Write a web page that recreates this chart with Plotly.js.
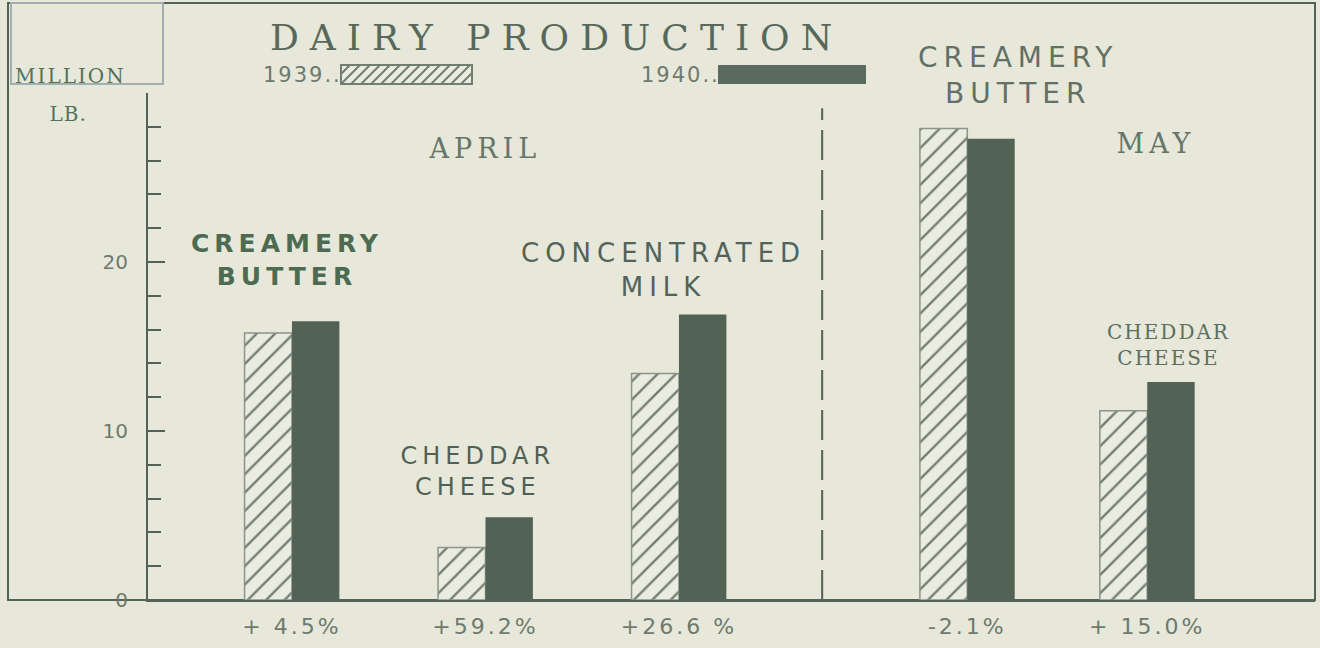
<!DOCTYPE html>
<html>
<head>
<meta charset="utf-8">
<script src="https://cdn.plot.ly/plotly-3.0.1.min.js"></script>
<style>
  html, body { margin: 0; padding: 0; background: #e7e8d9; }
  #chart { width: 1320px; height: 648px; }
  #chart .xtick text { letter-spacing: 3px; }
</style>
</head>
<body>
<div id="chart"></div>
<script>
// ---- data ----
const months = ['APRIL', 'APRIL', 'APRIL', 'MAY', 'MAY'];
const products = ['CREAMERY<br>BUTTER', 'CHEDDAR<br>CHEESE', 'CONCENTRATED<br>MILK', 'CREAMERY<br>BUTTER', 'CHEDDAR<br>CHEESE'];
const prod1939 = [15.8, 3.1, 13.4, 27.9, 11.2];
const prod1940 = [16.5, 4.9, 16.9, 27.3, 12.9];
const changeLabels = ['+ 4.5%', '+59.2%', '+26.6 %', '-2.1%', '+ 15.0%'];
const seriesNames = ['1939..', '1940..'];
const yTickVals = [0, 10, 20];
const yTickText = ['0', '10', '20'];

// ---- layout helpers (positions / styles, not data) ----
const W = 1320, H = 648;
const M = { l: 148, r: 5, t: 93, b: 48 };
const plotW = W - M.l - M.r, plotH = H - M.t - M.b;
const px = x => (x - M.l) / plotW;           // pixel -> paper x
const py = y => (H - M.b - y) / plotH;       // pixel -> paper y
const groupPos = [1, 2, 3, 4.49, 5.42];
const barW = 0.245;
const ink = '#536256';
const bg = '#e7e8d9';

const traces = [
  {
    type: 'bar', name: seriesNames[0], x: groupPos, y: prod1939,
    width: barW, offset: -barW,
    marker: {
      color: bg,
      line: { color: '#8a948a', width: 1.5 },
      pattern: { shape: '/', size: 13, solidity: 0.18, fgcolor: '#737e73', bgcolor: '#eaecdf', fillmode: 'replace' }
    },
    showlegend: false, hoverinfo: 'y'
  },
  {
    type: 'bar', name: seriesNames[1], x: groupPos, y: prod1940,
    width: barW, offset: 0,
    marker: { color: '#526255', line: { width: 0 } },
    showlegend: false, hoverinfo: 'y'
  }
];

// annotation list with per-item letter spacing
const ann = [];
const spacing = [];
function addAnn(a, ls) {
  ann.push(Object.assign({ showarrow: false, xanchor: 'center', yanchor: 'middle' }, a));
  spacing.push(ls || 0);
}

addAnn({ text: 'DAIRY PRODUCTION', xref: 'paper', yref: 'paper', x: px(556), y: py(37),
  font: { family: 'DejaVu Serif', size: 36, color: '#58685a' } }, 11);
addAnn({ text: 'MILLION', xref: 'paper', yref: 'paper', x: px(20), y: py(76), xanchor: 'left',
  font: { family: 'DejaVu Serif', size: 20, color: '#557259' } }, 2);
addAnn({ text: 'LB.', xref: 'paper', yref: 'paper', x: px(68), y: py(114),
  font: { family: 'DejaVu Serif', size: 20, color: '#557259' } }, 1);
addAnn({ text: seriesNames[0], xref: 'paper', yref: 'paper', x: px(338), y: py(75), xanchor: 'right',
  font: { family: 'DejaVu Sans', size: 21, color: '#6d7a6d' } }, 2);
addAnn({ text: seriesNames[1], xref: 'paper', yref: 'paper', x: px(716), y: py(75), xanchor: 'right',
  font: { family: 'DejaVu Sans', size: 21, color: '#6d7a6d' } }, 2);

// month labels
const monthPos = { APRIL: [2.0, 26.7], MAY: [5.47, 27.0] };
[...new Set(months)].forEach(m => {
  addAnn({ text: m, xref: 'x', yref: 'y', x: monthPos[m][0], y: monthPos[m][1],
    font: { family: 'DejaVu Serif', size: 27, color: '#66766a' } }, 5);
});

// product labels (the May creamery label sits above the axis range, so it uses paper coords)
const labelPos = [
  { xref: 'x', yref: 'y', x: 0.975, y: 20.1 },
  { xref: 'x', yref: 'y', x: 1.96, y: 7.6 },
  { xref: 'x', yref: 'y', x: 2.92, y: 19.5 },
  { xref: 'paper', yref: 'paper', x: px(1018), y: py(75) },
  { xref: 'x', yref: 'y', x: 5.53, y: 15.1 }
];
const labelStyle = [
  { family: 'DejaVu Sans', size: 25, color: '#4c6b51', weight: 700, ls: 5 },
  { family: 'DejaVu Sans', size: 24, color: '#506055', weight: 400, ls: 5 },
  { family: 'DejaVu Sans', size: 26, color: '#53625a', weight: 400, ls: 6 },
  { family: 'DejaVu Sans', size: 28, color: '#627066', weight: 400, ls: 6 },
  { family: 'DejaVu Serif', size: 20, color: '#5d6e60', weight: 400, ls: 2 }
];
products.forEach((p, i) => {
  const s = labelStyle[i];
  addAnn(Object.assign({ text: p, font: { family: s.family, size: s.size, color: s.color, weight: s.weight } }, labelPos[i]), s.ls);
});

// legend swatches
const shapes = [];
const ly0 = py(84), ly1 = py(65);
let hatch = '';
for (let k = 0; k < 15; k++) {
  const xa = 341 + k * 10 - 10, xb = xa + 19;
  const cA = Math.max(341, xa), cB = Math.min(472, xb);
  if (cB <= cA) continue;
  hatch += `M${px(cA)},${py(84 - (cA - xa))} L${px(cB)},${py(84 - (cB - xa))} `;
}
shapes.push({ type: 'rect', xref: 'paper', yref: 'paper', x0: px(341), x1: px(472), y0: ly0, y1: ly1,
  fillcolor: '#eaecdf', line: { color: '#737e73', width: 2 } });
shapes.push({ type: 'path', xref: 'paper', yref: 'paper', path: hatch, line: { color: '#737e73', width: 2 } });
shapes.push({ type: 'rect', xref: 'paper', yref: 'paper', x0: px(718), x1: px(866), y0: ly0, y1: ly1,
  fillcolor: '#5a6a5e', line: { width: 0 } });

// outer frame
shapes.push({ type: 'rect', xref: 'paper', yref: 'paper', x0: px(8), x1: 1, y0: 0, y1: py(3),
  line: { color: ink, width: 2 }, layer: 'below' });
// faint stamp box at top left
shapes.push({ type: 'rect', xref: 'paper', yref: 'paper', x0: px(11), x1: px(163), y0: py(84), y1: py(3),
  line: { color: '#a3aeb0', width: 2 }, layer: 'below' });
// dashed month divider
shapes.push({ type: 'line', xref: 'x', yref: 'y', x0: 3.74, x1: 3.74, y0: 0, y1: 29.1,
  line: { color: ink, width: 2, dash: '30px,10px' } });

const layout = {
  width: W, height: H,
  margin: M,
  paper_bgcolor: bg, plot_bgcolor: bg,
  barmode: 'group',
  showlegend: false,
  xaxis: {
    range: [0.256, 1 + (W - M.r - 292) / 193.5],
    tickmode: 'array', tickvals: groupPos, ticktext: changeLabels,
    ticks: '', showgrid: false, zeroline: false,
    showline: true, linecolor: ink, linewidth: 2,
    tickfont: { family: 'DejaVu Sans', size: 22, color: '#6d7a6d' },
    ticklabelstandoff: 6, fixedrange: true
  },
  yaxis: {
    range: [0, 30],
    tickmode: 'array', tickvals: yTickVals, ticktext: yTickText,
    ticks: 'inside', ticklen: 17, tickwidth: 2, tickcolor: ink,
    minor: { tickmode: 'linear', tick0: 0, dtick: 2, ticks: 'inside', ticklen: 13, tickwidth: 2, tickcolor: ink },
    showgrid: false, zeroline: false,
    showline: true, linecolor: ink, linewidth: 2,
    tickfont: { family: 'DejaVu Sans', size: 20, color: '#6d7a6d' },
    ticklabelstandoff: 14, fixedrange: true
  },
  annotations: ann,
  shapes: shapes
};

// per-annotation letter spacing
const css = spacing.map((ls, i) => ls ? `#chart .annotation[data-index="${i}"] text { letter-spacing: ${ls}px; }` : '').join('\n');
const st = document.createElement('style');
st.textContent = css;
document.head.appendChild(st);

Plotly.newPlot('chart', traces, layout, { displayModeBar: false, staticPlot: true });
</script>
</body>
</html>
